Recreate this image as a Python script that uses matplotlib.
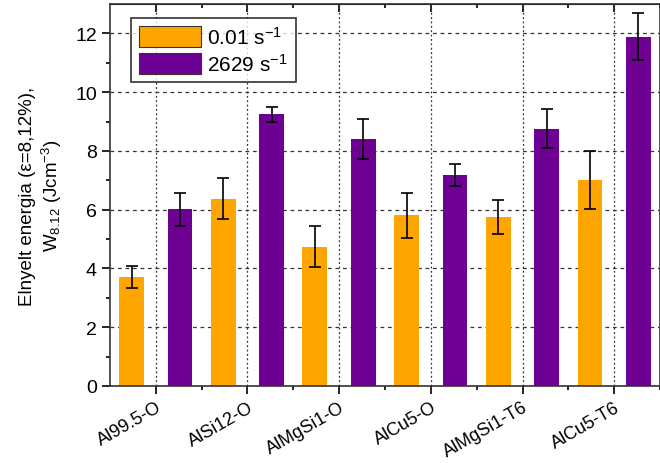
import numpy as np
import matplotlib.pyplot as plt

plt.rcParams['font.family'] = ['Liberation Sans', 'DejaVu Sans']
plt.rcParams['mathtext.fontset'] = 'custom'
plt.rcParams['mathtext.rm'] = 'Liberation Sans'
plt.rcParams['mathtext.it'] = 'Liberation Sans'
plt.rcParams['mathtext.default'] = 'regular'

# data
alloys = ['Al99.5-O', 'AlSi12-O', 'AlMgSi1-O', 'AlCu5-O', 'AlMgSi1-T6', 'AlCu5-T6']
slow = [3.70, 6.37, 4.74, 5.81, 5.76, 7.01]
slow_err = [0.38, 0.70, 0.70, 0.76, 0.58, 1.00]
fast = [6.02, 9.24, 8.40, 7.17, 8.75, 11.88]
fast_err = [0.56, 0.27, 0.68, 0.38, 0.66, 0.80]

orange = '#FFA500'
purple = '#6E0094'

fig = plt.figure(figsize=(6.6, 4.64), dpi=100)
ax = fig.add_axes([110/660, 77/464, 550/660, 382/464])

x = np.arange(len(alloys))
w = 0.27
off = 0.265
ax.bar(x - off, slow, w, color=orange, label='0.01 s$^{-1}$', zorder=2)
ax.bar(x + off, fast, w, color=purple, label='2629 s$^{-1}$', zorder=2)
ax.errorbar(x - off, slow, yerr=slow_err, fmt='none', ecolor='black',
            elinewidth=1.2, capsize=4, capthick=1.2, zorder=3)
ax.errorbar(x + off, fast, yerr=fast_err, fmt='none', ecolor='black',
            elinewidth=1.2, capsize=4, capthick=1.2, zorder=3)

ax.set_xlim(-0.5, 5.42)
ax.set_ylim(0, 13)
ax.set_yticks(np.arange(0, 13, 2))
ax.set_yticks(np.arange(1, 13, 2), minor=True)
ax.set_xticks(x)
ax.set_xticks(x + 0.5, minor=True)
ax.set_xticklabels(alloys, rotation=30, ha='right', rotation_mode='anchor')

ax.tick_params(axis='y', which='major', labelsize=14, length=6, width=1.2)
ax.tick_params(axis='x', which='major', labelsize=13, length=6, width=1.2, pad=3)
ax.tick_params(axis='both', which='minor', length=3, width=1.2)

ax.yaxis.grid(True, which='major', linestyle=(0, (3, 3)), color='#333333', linewidth=0.9)
ax.xaxis.grid(True, which='major', linestyle=(0, (1.5, 2)), color='#333333', linewidth=0.9)
ax.set_axisbelow(True)

sec_top = ax.secondary_xaxis('top')
sec_top.set_xticks(x)
sec_top.set_xticks(x + 0.5, minor=True)
sec_top.tick_params(which='major', direction='in', length=6, width=1.2, labeltop=False)
sec_top.tick_params(which='minor', direction='in', length=3, width=1.2)
sec_top.set_xticklabels([])

for s in ax.spines.values():
    s.set_linewidth(1.2)
    s.set_color('#333333')

ax.set_ylabel('Elnyelt energia (ε=8,12%),\nW$_{8.12}$ (Jcm$^{-3}$)', fontsize=13.5, labelpad=8)

leg = ax.legend(loc='upper left', fontsize=15, frameon=True, fancybox=False,
                edgecolor='black', handlelength=3.0, handleheight=1.2,
                borderpad=0.35, labelspacing=0.25, handletextpad=0.3,
                bbox_to_anchor=(0.02, 0.99))
leg.get_frame().set_linewidth(1.2)
for h in leg.legend_handles:
    h.set_edgecolor('#333333')
    h.set_linewidth(0.8)

fig.savefig('out.png', dpi=100)
